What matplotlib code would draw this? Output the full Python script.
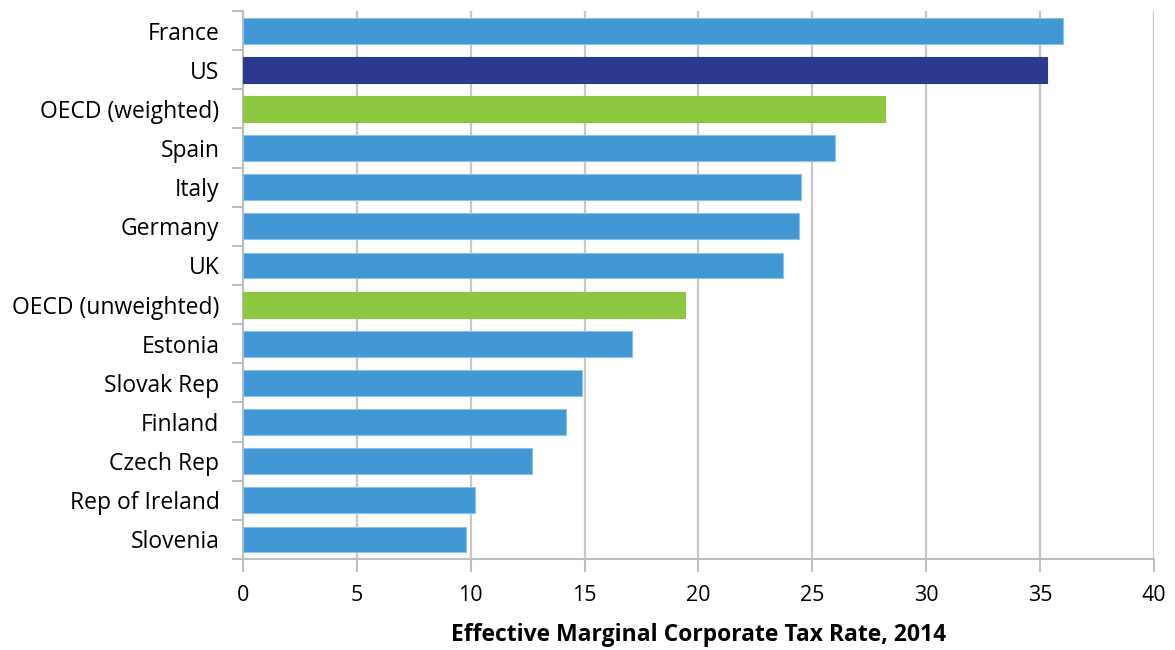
import matplotlib
matplotlib.use("Agg")
import matplotlib.pyplot as plt

countries = ["France", "US", "OECD (weighted)", "Spain", "Italy", "Germany", "UK",
             "OECD (unweighted)", "Estonia", "Slovak Rep", "Finland", "Czech Rep",
             "Rep of Ireland", "Slovenia"]
rates = [36.0, 35.3, 28.2, 26.0, 24.5, 24.4, 23.7, 19.4, 17.1, 14.9, 14.2, 12.7, 10.2, 9.8]
groups = ["country", "us", "oecd", "country", "country", "country", "country",
          "oecd", "country", "country", "country", "country", "country", "country"]
xticks = [0, 5, 10, 15, 20, 25, 30, 35, 40]
xlabel = "Effective Marginal Corporate Tax Rate, 2014"

palette = {"country": "#4198D4", "us": "#2B3990", "oecd": "#8DC63F"}
edges = {"country": "#8CC3EA", "us": "#2B3990", "oecd": "#8DC63F"}

plt.rcParams["font.family"] = ["Open Sans", "DejaVu Sans"]

fig = plt.figure(figsize=(11.75, 6.5), dpi=100)
ax = fig.add_axes([0.2068, 0.14, 0.7753, 0.843])

n = len(countries)
ypos = list(range(n))
ax.barh(ypos, rates, height=0.66,
        color=[palette[g] for g in groups],
        edgecolor=[edges[g] for g in groups], linewidth=0.8, zorder=3)

ax.set_ylim(n - 0.5, -0.5)
ax.set_xlim(0, 40)
ax.set_xticks(xticks)
ax.set_xticklabels([str(t) for t in xticks], fontsize=15.5)
ax.set_yticks(ypos)
ax.set_yticklabels(countries, fontsize=16.5)
ax.tick_params(axis="y", length=0, pad=17)
# boundary ticks between categories
ax.set_yticks([i - 0.5 for i in range(n + 1)], minor=True)
ax.tick_params(axis="y", which="minor", length=8, color="#BFBFBF", width=1.5)
ax.tick_params(axis="x", length=9, color="#BFBFBF", width=1.5, pad=10)

ax.grid(axis="x", color="#C8C8C8", linewidth=1.6, zorder=0)
for side in ("top", "right"):
    ax.spines[side].set_visible(False)
for side in ("left", "bottom"):
    ax.spines[side].set_color("#BFBFBF")
    ax.spines[side].set_linewidth(1.5)

ax.set_xlabel(xlabel, fontsize=16.5, fontweight="bold", labelpad=12)

fig.savefig("out.png", dpi=100)
